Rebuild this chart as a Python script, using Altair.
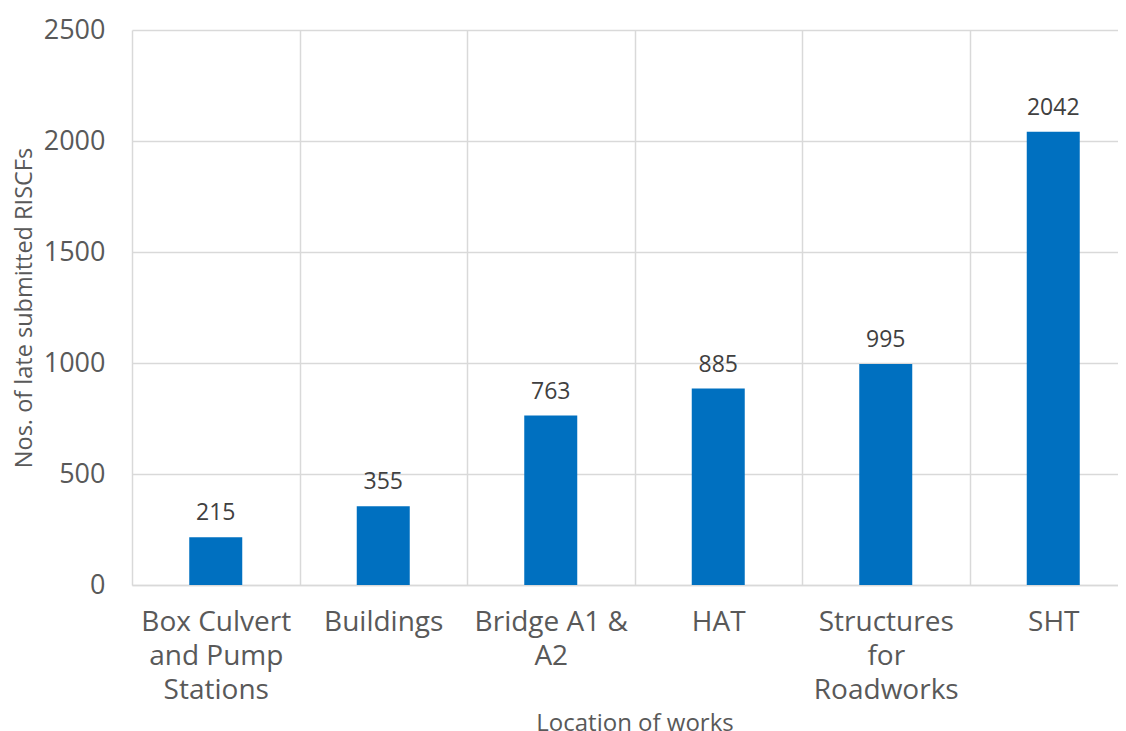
import altair as alt
import pandas as pd

categories = [
    "Box Culvert\nand Pump\nStations",
    "Buildings",
    "Bridge A1 &\nA2",
    "HAT",
    "Structures\nfor\nRoadworks",
    "SHT",
]
values = [215, 355, 763, 885, 995, 2042]
y_ticks = [0, 500, 1000, 1500, 2000, 2500]

df = pd.DataFrame({"cat": categories, "val": values})

FONT = "Open Sans"
GRAY = "#595959"
GRID = "#d9d9d9"

x = alt.X(
    "cat:N",
    sort=categories,
    title="Location of works",
    scale=alt.Scale(range=[0, 1005], paddingInner=0, paddingOuter=0),
    axis=alt.Axis(
        labelExpr="split(datum.label, '\\n')",
        labelAngle=0,
        labelFont=FONT,
        labelFontSize=28,
        labelColor=GRAY,
        labelLineHeight=34,
        labelPadding=37,
        labelBaseline="middle",
        ticks=False,
        tickBand="extent",
        grid=True,
        gridColor=GRID,
        gridWidth=1.5,
        domainColor=GRID,
        domainWidth=1.5,
        titleFont=FONT,
        titleFontSize=24,
        titleFontWeight="normal",
        titleColor=GRAY,
        titlePadding=7,
    ),
)

y = alt.Y(
    "val:Q",
    title="Nos. of late submitted RISCFs",
    scale=alt.Scale(domain=[0, 2500], nice=False),
    axis=alt.Axis(
        values=y_ticks,
        format="d",
        labelFont=FONT,
        labelFontSize=27,
        labelColor=GRAY,
        labelPadding=27,
        ticks=False,
        domain=False,
        grid=True,
        gridColor=GRID,
        gridWidth=1.5,
        titleFont=FONT,
        titleFontSize=23.5,
        titleFontWeight="normal",
        titleColor=GRAY,
        titlePadding=7,
    ),
)

base = alt.Chart(df).encode(x=x, y=y)
bars = base.mark_bar(color="#0070C0", size=53)
labels = base.mark_text(
    baseline="bottom", dy=-12, font=FONT, fontSize=23, color="#404040"
).encode(text="val:Q")

chart = (
    (bars + labels)
    .properties(
        width=986,
        height=555,
        autosize=alt.AutoSizeParams(type="none"),
        padding={"left": 124, "top": 22, "right": 0, "bottom": 150},
    )
    .configure_view(stroke=None)
)

chart.save("out.html", embed_options={"renderer": "svg", "actions": False})
